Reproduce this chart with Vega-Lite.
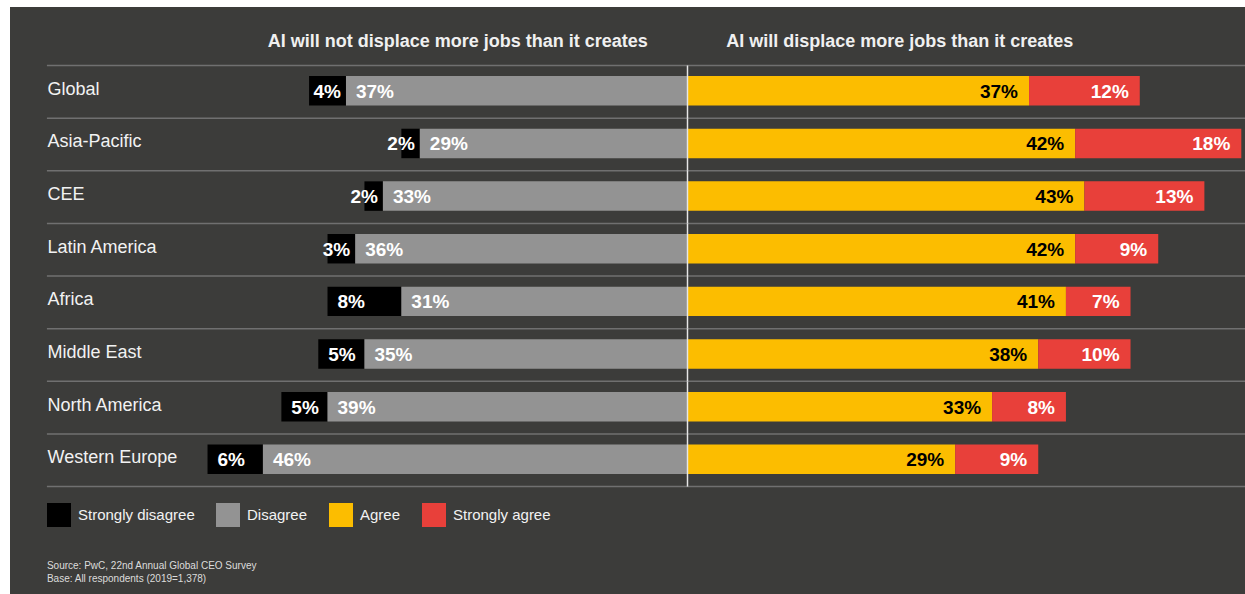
{
  "$schema": "https://vega.github.io/schema/vega-lite/v6.json",
  "width": 1235,
  "height": 587,
  "autosize": {"type": "none"},
  "padding": {"left": 10, "top": 7, "right": 0, "bottom": 0},
  "background": "#ffffff",
  "title": {
    "text": "Figuur 30: De werkgelegenheidsimpact van AI volgens de CEO's (in % van CEO's)",
    "anchor": "start", "orient": "top", "frame": "group", "offset": 2,
    "baseline": "alphabetic", "fontSize": 24, "fontWeight": "bold",
    "font": "Liberation Sans", "color": "#000000", "dx": -10
  },
  "config": {
    "view": {"fill": "#3c3c3a", "stroke": null},
    "font": "Liberation Sans"
  },
  "data": {
    "values": [
      {"region": "Global", "response": "Strongly disagree", "value": -4, "label": "4%"},
      {"region": "Global", "response": "Disagree", "value": -37, "label": "37%"},
      {"region": "Global", "response": "Agree", "value": 37, "label": "37%"},
      {"region": "Global", "response": "Strongly agree", "value": 12, "label": "12%"},
      {"region": "Asia-Pacific", "response": "Strongly disagree", "value": -2, "label": "2%"},
      {"region": "Asia-Pacific", "response": "Disagree", "value": -29, "label": "29%"},
      {"region": "Asia-Pacific", "response": "Agree", "value": 42, "label": "42%"},
      {"region": "Asia-Pacific", "response": "Strongly agree", "value": 18, "label": "18%"},
      {"region": "CEE", "response": "Strongly disagree", "value": -2, "label": "2%"},
      {"region": "CEE", "response": "Disagree", "value": -33, "label": "33%"},
      {"region": "CEE", "response": "Agree", "value": 43, "label": "43%"},
      {"region": "CEE", "response": "Strongly agree", "value": 13, "label": "13%"},
      {"region": "Latin America", "response": "Strongly disagree", "value": -3, "label": "3%"},
      {"region": "Latin America", "response": "Disagree", "value": -36, "label": "36%"},
      {"region": "Latin America", "response": "Agree", "value": 42, "label": "42%"},
      {"region": "Latin America", "response": "Strongly agree", "value": 9, "label": "9%"},
      {"region": "Africa", "response": "Strongly disagree", "value": -8, "label": "8%"},
      {"region": "Africa", "response": "Disagree", "value": -31, "label": "31%"},
      {"region": "Africa", "response": "Agree", "value": 41, "label": "41%"},
      {"region": "Africa", "response": "Strongly agree", "value": 7, "label": "7%"},
      {"region": "Middle East", "response": "Strongly disagree", "value": -5, "label": "5%"},
      {"region": "Middle East", "response": "Disagree", "value": -35, "label": "35%"},
      {"region": "Middle East", "response": "Agree", "value": 38, "label": "38%"},
      {"region": "Middle East", "response": "Strongly agree", "value": 10, "label": "10%"},
      {"region": "North America", "response": "Strongly disagree", "value": -5, "label": "5%"},
      {"region": "North America", "response": "Disagree", "value": -39, "label": "39%"},
      {"region": "North America", "response": "Agree", "value": 33, "label": "33%"},
      {"region": "North America", "response": "Strongly agree", "value": 8, "label": "8%"},
      {"region": "Western Europe", "response": "Strongly disagree", "value": -6, "label": "6%"},
      {"region": "Western Europe", "response": "Disagree", "value": -46, "label": "46%"},
      {"region": "Western Europe", "response": "Agree", "value": 29, "label": "29%"},
      {"region": "Western Europe", "response": "Strongly agree", "value": 9, "label": "9%"}
    ]
  },
  "transform": [
    {"stack": "value", "groupby": ["region"], "sort": [{"field": "response", "order": "ascending"}], "as": ["v0", "v1"]}
  ],
  "layer": [
    {
      "transform": [{"filter": "datum.response === 'Agree'"}],
      "mark": {"type": "rule", "color": "#707070", "strokeWidth": 1.5},
      "encoding": {
        "x": {"datum": -69.4, "type": "quantitative", "scale": {"domain": [-73.4, 60.4], "nice": false, "zero": false}, "axis": null},
        "x2": {"datum": 60.4},
        "y": {
          "field": "region", "type": "nominal", "bandPosition": 0,
          "scale": {"domain": ["Global", "Asia-Pacific", "CEE", "Latin America", "Africa", "Middle East", "North America", "Western Europe"], "range": [58.5, 479.6], "paddingInner": 0, "paddingOuter": 0},
          "axis": {"orient": "left", "domain": false, "ticks": false, "grid": false, "labelAlign": "left", "labelPadding": -37, "labelFontSize": 18, "labelColor": "#f2f2f2", "labelFont": "Liberation Sans", "title": null, "labelBaseline": "middle", "labelOffset": -2, "labelBound": false, "labelOverlap": false}
        }
      }
    },
    {
      "transform": [{"filter": "datum.response === 'Agree' && datum.region === 'Western Europe'"}],
      "mark": {"type": "rule", "color": "#707070", "strokeWidth": 1.5},
      "encoding": {
        "x": {"datum": -69.4, "type": "quantitative"},
        "x2": {"datum": 60.4},
        "y": {"field": "region", "type": "nominal", "bandPosition": 1}
      }
    },
    {
      "mark": {"type": "bar", "height": {"band": 0.56}, "yOffset": -1},
      "encoding": {
        "x": {"field": "v0", "type": "quantitative"},
        "x2": {"field": "v1"},
        "y": {"field": "region", "type": "nominal"},
        "color": {
          "field": "response", "type": "nominal",
          "scale": {"domain": ["Strongly disagree", "Disagree", "Agree", "Strongly agree"], "range": ["#000000", "#939393", "#fcbd00", "#e8403a"]},
          "legend": {"orient": "none", "legendX": 37, "legendY": 496, "direction": "horizontal", "title": null, "symbolType": "square", "symbolSize": 576, "symbolStrokeWidth": 0, "symbolOpacity": 1, "labelFontSize": 15, "labelColor": "#f2f2f2", "labelFont": "Liberation Sans", "labelOffset": 7, "columnPadding": 21, "padding": 0}
        }
      }
    },
    {
      "transform": [{"filter": "datum.response === 'Agree'"}],
      "mark": {"type": "bar", "color": "#e6e6e6"},
      "encoding": {
        "x": {"datum": -0.08, "type": "quantitative"},
        "x2": {"datum": 0.08},
        "y": {"field": "region", "type": "nominal"}
      }
    },
    {
      "transform": [{"filter": "datum.response === 'Disagree' || (datum.response === 'Strongly disagree' && datum.value <= -5)"}],
      "mark": {"type": "text", "align": "left", "baseline": "middle", "dx": 10, "fontSize": 19, "fontWeight": "bold", "color": "#ffffff", "font": "Liberation Sans"},
      "encoding": {
        "x": {"field": "v1", "type": "quantitative"},
        "y": {"field": "region", "type": "nominal"},
        "text": {"field": "label"}
      }
    },
    {
      "transform": [{"filter": "datum.response === 'Strongly disagree' && datum.value > -5"}],
      "mark": {"type": "text", "align": "right", "baseline": "middle", "dx": -5, "fontSize": 19, "fontWeight": "bold", "color": "#ffffff", "font": "Liberation Sans"},
      "encoding": {
        "x": {"field": "v0", "type": "quantitative"},
        "y": {"field": "region", "type": "nominal"},
        "text": {"field": "label"}
      }
    },
    {
      "transform": [{"filter": "datum.response === 'Agree' || datum.response === 'Strongly agree'"}],
      "mark": {"type": "text", "align": "right", "baseline": "middle", "dx": -11, "fontSize": 19, "fontWeight": "bold", "font": "Liberation Sans"},
      "encoding": {
        "x": {"field": "v1", "type": "quantitative"},
        "y": {"field": "region", "type": "nominal"},
        "text": {"field": "label"},
        "color": {"condition": {"test": "datum.response === 'Agree'", "value": "#000000"}, "value": "#ffffff"}
      }
    },
    {
      "data": {"values": [{"header": "AI will not displace more jobs than it creates"}]},
      "mark": {"type": "text", "align": "right", "baseline": "alphabetic", "dy": -19, "fontSize": 18, "fontWeight": "bold", "color": "#f0f0f0", "font": "Liberation Sans"},
      "encoding": {
        "x": {"datum": -4.3, "type": "quantitative"},
        "y": {"datum": "Global", "type": "nominal", "bandPosition": 0},
        "text": {"field": "header"}
      }
    },
    {
      "data": {"values": [{"header": "AI will displace more jobs than it creates"}]},
      "mark": {"type": "text", "align": "left", "baseline": "alphabetic", "dy": -19, "fontSize": 18, "fontWeight": "bold", "color": "#f0f0f0", "font": "Liberation Sans"},
      "encoding": {
        "x": {"datum": 4.2, "type": "quantitative"},
        "y": {"datum": "Global", "type": "nominal", "bandPosition": 0},
        "text": {"field": "header"}
      }
    },
    {
      "data": {"values": [{"note": ["Source: PwC, 22nd Annual Global CEO Survey", "Base: All respondents (2019=1,378)"]}]},
      "mark": {"type": "text", "align": "left", "baseline": "alphabetic", "dy": 82, "fontSize": 10, "lineHeight": 13.5, "color": "#dcdcdc", "font": "Liberation Sans"},
      "encoding": {
        "x": {"datum": -69.4, "type": "quantitative"},
        "y": {"datum": "Western Europe", "type": "nominal", "bandPosition": 1},
        "text": {"field": "note"}
      }
    }
  ]
}
